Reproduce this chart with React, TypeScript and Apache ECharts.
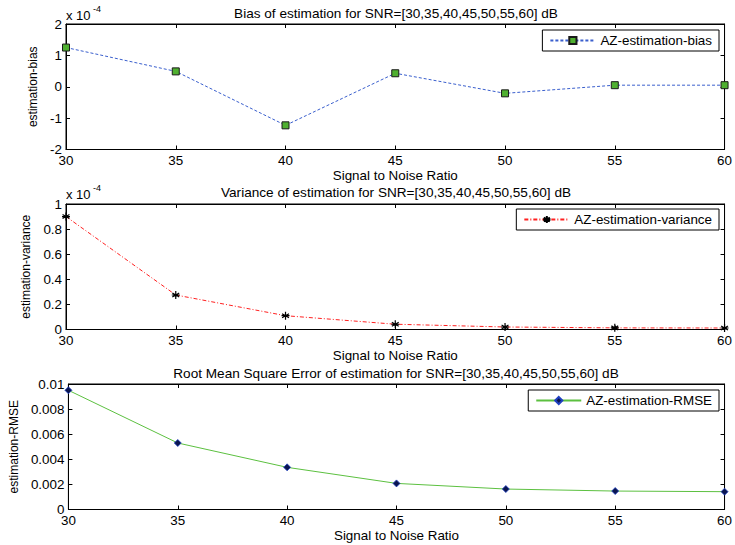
import React, { useEffect, useRef } from "react";
import * as echarts from "echarts";

const snr = [30, 35, 40, 45, 50, 55, 60];
const biasValues = [1.25e-4, 0.49e-4, -1.23e-4, 0.43e-4, -0.21e-4, 0.05e-4, 0.05e-4];
const varianceValues = [0.9e-4, 0.275e-4, 0.11e-4, 0.042e-4, 0.02e-4, 0.013e-4, 0.012e-4];
const rmseValues = [0.0095, 0.0053, 0.00336, 0.00208, 0.00163, 0.00147, 0.00142];

const titles = [
  "Bias of estimation for SNR=[30,35,40,45,50,55,60] dB",
  "Variance of estimation for SNR=[30,35,40,45,50,55,60] dB",
  "Root Mean Square Error of estimation for SNR=[30,35,40,45,50,55,60] dB",
];
const seriesNames = ["AZ-estimation-bias", "AZ-estimation-variance", "AZ-estimation-RMSE"];
const yNames = ["estimation-bias", "estimation-variance", "estimation-RMSE"];
const xName = "Signal to Noise Ratio";

const FONT = "Liberation Sans, Arial, sans-serif";
const FS = 13.4;
const gridTops = [24, 204, 384];
const gridH = 125.5;
const gridLeft = 66;
const gridW = 660;

export default function App() {
  const ref = useRef<HTMLDivElement>(null);
  useEffect(() => {
    if (!ref.current) return;
    const chart = echarts.init(ref.current, null, { renderer: "svg" });
    const yCfg = [
      { min: -2e-4, max: 2e-4, interval: 1e-4, fmt: (v: number) => String(Math.round(v * 1e4)) },
      { min: 0, max: 1e-4, interval: 0.2e-4, fmt: (v: number) => String(+(v * 1e4).toFixed(2)) },
      { min: 0, max: 0.01, interval: 0.002, fmt: (v: number) => String(+v.toFixed(4)) },
    ];
    const nameGaps = [25, 31, 29];
    const xAxes: any[] = [];
    const yAxes: any[] = [];
    const grids: any[] = [];
    gridTops.forEach((top, i) => {
      grids.push({
        left: gridLeft, top, width: gridW, height: gridH,
        show: true, borderColor: "#000", borderWidth: 1, backgroundColor: "#fff",
      });
      const xBase = {
        type: "value", gridIndex: i, min: 30, max: 60, interval: 5,
        axisLine: { show: true, onZero: false, lineStyle: { color: "#000", width: 1 } },
        axisTick: { show: true, inside: true, length: 4, lineStyle: { color: "#000" } },
        splitLine: { show: false },
      };
      xAxes.push({
        ...xBase, position: "bottom",
        axisLabel: { color: "#000", fontSize: FS, fontFamily: FONT, margin: 5, lineHeight: 12 },
        name: xName, nameLocation: "middle", nameGap: 19,
        nameTextStyle: { color: "#000", fontSize: FS, fontFamily: FONT },
      });
      xAxes.push({ ...xBase, position: "top", axisLabel: { show: false } });
      const yBase = {
        type: "value", gridIndex: i, min: yCfg[i].min, max: yCfg[i].max, interval: yCfg[i].interval,
        axisLine: { show: true, onZero: false, lineStyle: { color: "#000", width: 1 } },
        axisTick: { show: true, inside: true, length: 4, lineStyle: { color: "#000" } },
        splitLine: { show: false },
      };
      yAxes.push({
        ...yBase, position: "left",
        axisLabel: {
          color: "#000", fontSize: FS, fontFamily: FONT, margin: 4, lineHeight: 11,
          formatter: yCfg[i].fmt,
        },
        name: yNames[i], nameLocation: "middle", nameGap: nameGaps[i], nameRotate: 90,
        nameTextStyle: { color: "#000", fontSize: 12, fontFamily: FONT },
      });
      yAxes.push({ ...yBase, position: "right", axisLabel: { show: false } });
    });

    const asterisk = "path://M0,-5L0,5M-4.3,-2.5L4.3,2.5M-4.3,2.5L4.3,-2.5M-5,0L5,0";
    const series: any[] = [
      {
        name: seriesNames[0], type: "line", xAxisIndex: 0, yAxisIndex: 0,
        data: snr.map((x, k) => [x, biasValues[k]]),
        lineStyle: { color: "#3a5fcd", width: 1, type: [3, 2] },
        symbol: "rect", symbolSize: 7,
        itemStyle: { color: "#4fb030", borderColor: "#1a1a1a", borderWidth: 1 },
      },
      {
        name: seriesNames[1], type: "line", xAxisIndex: 2, yAxisIndex: 2,
        data: snr.map((x, k) => [x, varianceValues[k]]),
        lineStyle: { color: "#ff2020", width: 1, type: [4, 2, 1, 2] },
        symbol: asterisk, symbolSize: 8,
        itemStyle: { color: "#000", borderColor: "#000", borderWidth: 1.2 },
      },
      {
        name: seriesNames[2], type: "line", xAxisIndex: 4, yAxisIndex: 4,
        data: snr.map((x, k) => [x, rmseValues[k]]),
        lineStyle: { color: "#5cc040", width: 1, type: "solid" },
        symbol: "diamond", symbolSize: 7,
        itemStyle: { color: "#0a1550", borderColor: "#2040c0", borderWidth: 0.8 },
      },
    ];

    const legendTops = [30, 209, 390];
    const legends = seriesNames.map((n, i) => ({
      data: [n], right: 16, top: legendTops[i], orient: "vertical",
      itemWidth: 45, itemHeight: 9, itemGap: 0,
      padding: [4, 7, 4, 7], borderColor: "#000", borderWidth: 1, backgroundColor: "#fff",
      textStyle: { color: "#000", fontSize: FS, fontFamily: FONT, padding: [0, 0, 0, 0] },
    }));

    const titleTops = [6, 185, 366];
    const titleList = titles.map((t, i) => ({
      text: t, left: gridLeft + gridW / 2, textAlign: "center", top: titleTops[i], padding: 0,
      textStyle: { color: "#000", fontSize: 13.6, fontWeight: "normal", fontFamily: FONT },
    }));

    const expTops = [16, 195];
    const graphic: any[] = [];
    expTops.forEach((y) => {
      graphic.push({
        type: "text", left: 66, top: y - 7,
        style: { text: "x 10", fill: "#000", font: `13px ${FONT}` },
      });
      graphic.push({
        type: "text", left: 93, top: y - 12,
        style: { text: "-4", fill: "#000", font: `9px ${FONT}` },
      });
    });

    chart.setOption({
      animation: false,
      backgroundColor: "#fff",
      title: titleList,
      grid: grids,
      xAxis: xAxes,
      yAxis: yAxes,
      legend: legends,
      series,
      graphic,
    });
    return () => chart.dispose();
  }, []);
  return (
    <div
      ref={ref}
      style={{ position: "fixed", left: 0, top: 0, width: 735, height: 545, background: "#fff" }}
    />
  );
}
